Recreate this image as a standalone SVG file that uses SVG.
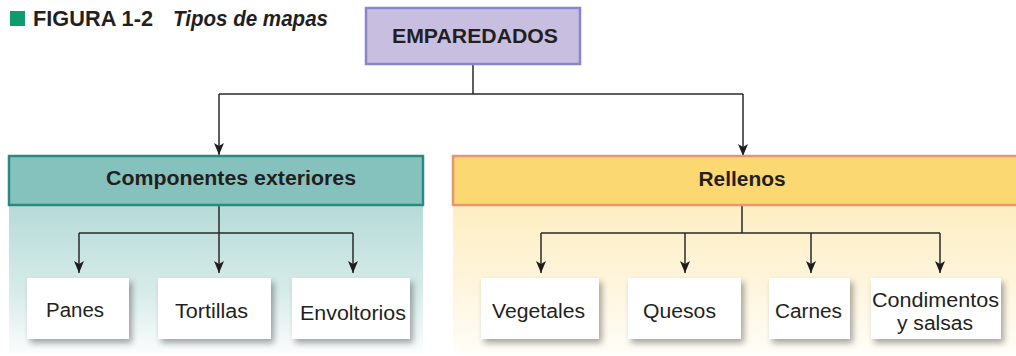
<svg xmlns="http://www.w3.org/2000/svg" width="1016" height="356" viewBox="0 0 1016 356">
<style>
  .lbl{font-family:"Liberation Sans",Arial,sans-serif;font-size:20px;fill:#231f20;text-anchor:middle}
  .hdr{font-family:"Liberation Sans",Arial,sans-serif;font-size:20px;font-weight:bold;fill:#231f20;text-anchor:middle}
  .conn{fill:none;stroke:#2a2a2a;stroke-width:1.5}
  .leaf{fill:#ffffff;filter:url(#sh)}
</style>
<defs>
  <linearGradient id="gTeal" x1="0" y1="0" x2="0" y2="1">
    <stop offset="0" stop-color="#b6dbd8"/>
    <stop offset="0.6" stop-color="#d8ecea"/>
    <stop offset="1" stop-color="#fbfdfd"/>
  </linearGradient>
  <linearGradient id="gYel" x1="0" y1="0" x2="0" y2="1">
    <stop offset="0" stop-color="#fdeec2"/>
    <stop offset="0.6" stop-color="#fef6e0"/>
    <stop offset="1" stop-color="#fffdf8"/>
  </linearGradient>
  <linearGradient id="gTealEdge" x1="0" y1="0" x2="0" y2="1">
    <stop offset="0" stop-color="#2a8a80"/>
    <stop offset="1" stop-color="#2a8a80" stop-opacity="0.1"/>
  </linearGradient>
  <linearGradient id="gOrEdge" x1="0" y1="0" x2="0" y2="1">
    <stop offset="0" stop-color="#e99570"/>
    <stop offset="1" stop-color="#e99570" stop-opacity="0.1"/>
  </linearGradient>
  <filter id="sh" x="-20%" y="-20%" width="150%" height="160%">
    <feDropShadow dx="3" dy="4" stdDeviation="3" flood-color="#000" flood-opacity="0.35"/>
  </filter>
  <marker id="ah" viewBox="0 0 12 10" refX="12" refY="5" markerWidth="12" markerHeight="10" markerUnits="userSpaceOnUse" orient="auto">
    <path d="M0,0 L12,5 L0,10 L3,5 z" fill="#1e1e1e"/>
  </marker>
</defs>

<g id="title">
  <rect x="10" y="11" width="15" height="15" fill="#0f9b6e"/>
  <text x="33" y="26" font-family="'Liberation Sans',Arial,sans-serif" font-size="21.5" font-weight="bold" fill="#231f20" textLength="120" lengthAdjust="spacingAndGlyphs">FIGURA 1-2</text>
  <text x="173" y="26" font-family="'Liberation Sans',Arial,sans-serif" font-size="21.5" font-weight="bold" font-style="italic" fill="#231f20" textLength="155" lengthAdjust="spacingAndGlyphs">Tipos de mapas</text>
</g>

<g id="panel-left">
  <rect x="9" y="205" width="414" height="148" fill="url(#gTeal)"/>
  <line x1="9.5" y1="205" x2="9.5" y2="353" stroke="url(#gTealEdge)" stroke-width="2"/>
  <line x1="422.5" y1="205" x2="422.5" y2="353" stroke="url(#gTealEdge)" stroke-width="2"/>
</g>
<g id="panel-right">
  <rect x="453" y="205" width="570" height="148" fill="url(#gYel)"/>
  <line x1="454" y1="205" x2="454" y2="353" stroke="url(#gOrEdge)" stroke-width="2"/>
</g>

<g id="connectors">
  <path class="conn" d="M473,64 V94 M219,94 H743"/>
  <path class="conn" d="M219,94 V155" marker-end="url(#ah)"/>
  <path class="conn" d="M743,94 V156" marker-end="url(#ah)"/>
  <path class="conn" d="M219,206 V273" marker-end="url(#ah)"/>
  <path class="conn" d="M79,233 H353"/>
  <path class="conn" d="M79,233 V273" marker-end="url(#ah)"/>
  <path class="conn" d="M353,233 V273" marker-end="url(#ah)"/>
  <path class="conn" d="M742,206 V233 M541,233 H940"/>
  <path class="conn" d="M541,233 V273" marker-end="url(#ah)"/>
  <path class="conn" d="M685,233 V273" marker-end="url(#ah)"/>
  <path class="conn" d="M811,233 V273" marker-end="url(#ah)"/>
  <path class="conn" d="M940,233 V273" marker-end="url(#ah)"/>
</g>

<g id="emparedados">
  <rect x="366" y="8" width="214" height="56" fill="#c8bfe0" stroke="#8a86cc" stroke-width="2.5"/>
  <text class="hdr" x="475" y="43" textLength="166" lengthAdjust="spacingAndGlyphs">EMPAREDADOS</text>
</g>

<g id="componentes">
  <rect x="9" y="156" width="414" height="49" fill="#86c2bd" stroke="#2a8a80" stroke-width="2.5"/>
  <text class="hdr" x="231" y="185" textLength="250" lengthAdjust="spacingAndGlyphs">Componentes exteriores</text>
</g>

<g id="rellenos">
  <rect x="453" y="156" width="570" height="49" fill="#fcd872" stroke="#e99570" stroke-width="2.5"/>
  <text class="hdr" x="742" y="186" textLength="87" lengthAdjust="spacingAndGlyphs">Rellenos</text>
</g>

<g id="panes">
  <rect class="leaf" x="27" y="278" width="102" height="61"/>
  <text class="lbl" x="75" y="317" textLength="58" lengthAdjust="spacingAndGlyphs">Panes</text>
</g>
<g id="tortillas">
  <rect class="leaf" x="158" y="278" width="113" height="61"/>
  <text class="lbl" x="211.5" y="318" textLength="73" lengthAdjust="spacingAndGlyphs">Tortillas</text>
</g>
<g id="envoltorios">
  <rect class="leaf" x="292" y="278" width="118" height="61"/>
  <text class="lbl" x="353" y="320" textLength="106" lengthAdjust="spacingAndGlyphs">Envoltorios</text>
</g>
<g id="vegetales">
  <rect class="leaf" x="481" y="278" width="118" height="61"/>
  <text class="lbl" x="538.5" y="318" textLength="93" lengthAdjust="spacingAndGlyphs">Vegetales</text>
</g>
<g id="quesos">
  <rect class="leaf" x="628" y="278" width="113" height="61"/>
  <text class="lbl" x="679.5" y="318" textLength="73" lengthAdjust="spacingAndGlyphs">Quesos</text>
</g>
<g id="carnes">
  <rect class="leaf" x="769" y="278" width="81" height="61"/>
  <text class="lbl" x="808.5" y="318" textLength="67" lengthAdjust="spacingAndGlyphs">Carnes</text>
</g>
<g id="condimentos">
  <rect class="leaf" x="871" y="278" width="130" height="61"/>
  <text class="lbl" x="935.5" y="307" textLength="127" lengthAdjust="spacingAndGlyphs">Condimentos</text>
  <text class="lbl" x="935" y="330" textLength="76" lengthAdjust="spacingAndGlyphs">y salsas</text>
</g>
</svg>
